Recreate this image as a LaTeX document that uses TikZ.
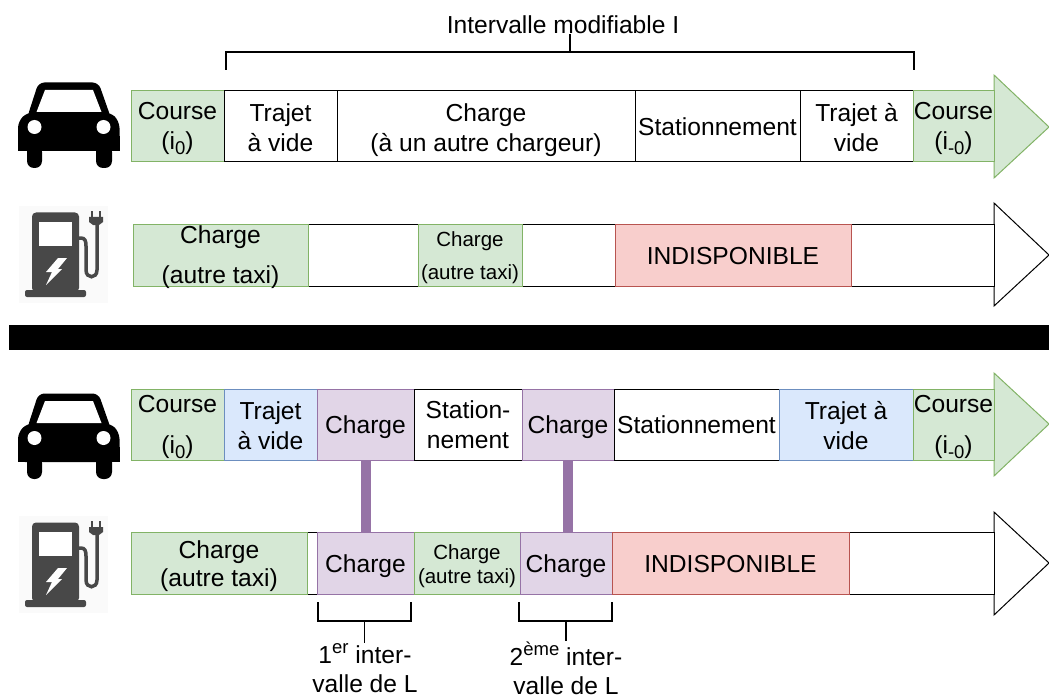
\documentclass[tikz,border=0pt]{standalone}
\usepackage{fontspec}
\setmainfont{Liberation Sans}
\definecolor{gfill}{HTML}{D5E8D4}\definecolor{gline}{HTML}{82B366}
\definecolor{bfill}{HTML}{DAE8FC}\definecolor{bline}{HTML}{6C8EBF}
\definecolor{pfill}{HTML}{E1D5E7}\definecolor{pline}{HTML}{9673A6}
\definecolor{rfill}{HTML}{F8CECC}\definecolor{rline}{HTML}{B85450}
\definecolor{pumpc}{HTML}{484848}
\newcommand\lowtxt[1]{\raisebox{-5pt}{\fontsize{18.5}{18.5}\selectfont #1}}
\newcommand\hightxt[1]{\raisebox{10pt}{\fontsize{18.5}{18.5}\selectfont #1}}
\tikzset{
  seg/.style={anchor=north west,inner sep=0pt,outer sep=0pt,line width=1pt},
  wbox/.style={seg,draw=black,fill=white},
  gbox/.style={seg,draw=gline,fill=gfill},
  bbox/.style={seg,draw=bline,fill=bfill},
  pbox/.style={seg,draw=pline,fill=pfill},
  rbox/.style={seg,draw=rline,fill=rfill},
  segtext/.style={inner sep=0pt,align=center,font=\fontsize{24.6}{30}\selectfont},
  small/.style={font=\fontsize{20.5}{#1}\selectfont},
  wide/.style={font=\fontsize{24.6}{#1}\selectfont},
  lnk/.style={draw=pline,line width=10pt},
  brk/.style={draw=black,line width=1.5pt},
  lab/.style={inner sep=0pt,align=center,font=\fontsize{24.6}{29}\selectfont},
  ghead/.style={draw=gline,fill=gfill,line width=1pt,line join=miter},
  whead/.style={draw=black,fill=white,line width=1pt,line join=miter},
}
% [text shift down], box style, x1, x2, y1, y2, name, text style, text
\newcommand\segm[9][0]{%
  \pgfmathsetmacro\segw{#4-#3}\pgfmathsetmacro\segh{#6-#5}%
  \node[#2,minimum width=\segw pt,minimum height=\segh pt] (#7) at (#3,#5) {};
  \node[segtext,#8,yshift=-#1 pt] (#7t) at (#7.center) {#9};}
\newcommand\caricon[1]{%
  \begin{scope}[yshift=-#1 pt]
    \fill[black,rounded corners=6pt] (27,118)--(38.5,82.5)--(98.5,82.5)--(111,118)--cycle;
    \fill[black,rounded corners=7pt] (18,151)--(18,121)--(28,112)--(110,112)--(119.5,121)--(119.5,151)--cycle;
    \fill[black] (18,136) rectangle (119.5,151);
    \fill[black,rounded corners=7pt] (27,145) rectangle (42,168);
    \fill[black,rounded corners=7pt] (96,145) rectangle (112,168);
    \fill[white] (36.5,112)--(45,90)--(93,90)--(101.5,112)--cycle;
    \fill[white] (34.5,127) circle[radius=7];
    \fill[white] (103.5,127) circle[radius=7];
  \end{scope}}
\newcommand\pumpicon[1]{%
  \begin{scope}[yshift=-#1 pt]
    \fill[black!2] (19,206) rectangle (108,303);
    \fill[pumpc,rounded corners=4pt] (32,292)--(32,212.5)--(79,212.5)--(79,292)--cycle;
    \fill[pumpc,rounded corners=2pt] (25,297)--(25,290)--(86,290)--(86,297)--cycle;
    \fill[white] (39,222) rectangle (72,246);
    \draw[pumpc,line width=3.5pt] (78,238) -- (81,238) .. controls (85,238) and (86,241) .. (86,246)
      -- (86,270) .. controls (86,279) and (97,279) .. (97,270) -- (97,222);
    \fill[pumpc] (89,222)--(89,217)--(103,217)--(103,222)--(99,225)--(93,225)--cycle;
    \fill[pumpc] (91,217) rectangle (93,211);
    \fill[pumpc] (99,217) rectangle (101,211);
    \fill[white] (58,258)--(67,258)--(58,269)--(62,269)--(46,285)--(52,272)--(46,272)--cycle;
  \end{scope}}
\begin{document}
\begin{tikzpicture}[x=1pt,y=-1pt]
\useasboundingbox (0,0) rectangle (1049,695);
\caricon{0}\caricon{311}\pumpicon{0}\pumpicon{310}

% row 1
\draw[ghead] (994,75)--(1049,127)--(994,178)--cycle;
\segm[2]{gbox}{131}{224}{91}{162}{a1}{}{Course\\(i\lowtxt{0})}
\segm[1]{wbox}{224}{337}{91}{162}{a2}{}{Trajet\\à vide}
\segm[3.5]{wbox}{337}{635}{91}{162}{a3}{}{Charge\\(à un autre chargeur)}
\segm[0]{wbox}{635}{800}{91}{162}{a4}{}{Stationnement}
\segm[1]{wbox}{800}{913}{91}{162}{a5}{}{Trajet à\\vide}
\segm[2]{gbox}{913}{994}{91}{162}{a6}{}{Course\\(i\lowtxt{-0})}

% row 2
\draw[whead] (994,203)--(1049,255)--(994,306)--cycle;
\segm{wbox}{308}{418}{224}{286}{b2}{}{}
\segm{wbox}{522}{615}{224}{286}{b4}{}{}
\segm{wbox}{851}{994}{224}{286}{b6}{}{}
\segm[2]{gbox}{133}{308}{224}{286}{b1}{wide=40}{Charge\\(autre taxi)}
\segm[2.5]{gbox}{418}{522}{224}{286}{b3}{small=33}{Charge\\(autre taxi)}
\segm[1]{rbox}{615}{851}{224}{286}{b5}{}{INDISPONIBLE}

% separator
\fill[black] (9,325) rectangle (1049,350);

% row 3
\draw[ghead] (994,373)--(1049,424)--(994,476)--cycle;
\segm[2]{gbox}{131}{224}{389}{460}{c1}{wide=41}{Course\\(i\lowtxt{0})}
\segm[1]{bbox}{224}{317}{389}{460}{c2}{}{Trajet\\à vide}
\segm[3]{pbox}{317}{414}{389}{460}{c3}{}{Charge}
\segm[0]{wbox}{414}{522}{389}{460}{c4}{}{Station-\\nement}
\segm[3]{pbox}{522}{614}{389}{460}{c5}{}{Charge}
\segm[0]{wbox}{614}{779}{389}{460}{c6}{}{Stationnement}
\segm[1]{bbox}{779}{913}{389}{460}{c7}{}{Trajet à\\vide}
\segm[2]{gbox}{913}{994}{389}{460}{c8}{wide=41}{Course\\(i\lowtxt{-0})}

% row 4
\draw[whead] (994,512)--(1049,563)--(994,615)--cycle;
\segm{wbox}{307}{317}{532}{594}{d2}{}{}
\segm{wbox}{849}{994}{532}{594}{d7}{}{}
\segm[3]{gbox}{131}{307}{532}{594}{d1}{wide=28}{Charge\\(autre taxi)}
\segm[3]{pbox}{317}{414}{532}{594}{d3}{}{Charge}
\segm[3.5]{gbox}{414}{520}{532}{594}{d4}{small=24}{Charge\\(autre taxi)}
\segm[3]{pbox}{520}{612}{532}{594}{d5}{}{Charge}
\segm[1]{rbox}{612}{849}{532}{594}{d6}{}{INDISPONIBLE}

% links
\draw[lnk] (c3.south) -- (d3.north);
\draw[lnk] (c5.south) -- (c5.south |- d5.north);

% labels
\node[lab] (t0) at (563,25) {Intervalle modifiable I};
\node[lab] (t1) at (365,668) {1\hightxt{er} inter-\\valle de L};
\node[lab] (t2) at (566,668) {2\hightxt{ème} inter-\\valle de L};

% brackets
\coordinate (k0) at (570,52);
\draw[brk] (226,70)--(226,52)--(914,52)--(914,70);
\draw[brk] (k0)--(t0.south -| k0);
\coordinate (k1) at (364.5,621);
\draw[brk] (318,602)--(318,621)--(411,621)--(411,602);
\draw[brk] (k1)--(t1.north -| k1);
\coordinate (k2) at (566,621);
\draw[brk] (519,602)--(519,621)--(612,621)--(612,602);
\draw[brk] (k2)--(t2.north -| k2);
\end{tikzpicture}
\end{document}
